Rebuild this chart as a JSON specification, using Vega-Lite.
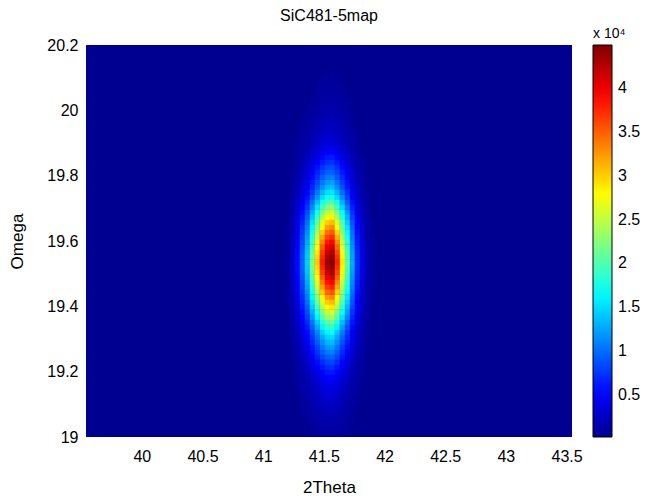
{
  "$schema": "https://vega.github.io/schema/vega-lite/v6.json",
  "width": 486,
  "height": 392,
  "autosize": {"type": "none"},
  "padding": {"left": 86, "top": 45, "right": 79, "bottom": 61},
  "background": "white",
  "config": {"font": "Liberation Sans", "view": {"fill": "#000090", "stroke": null}},
  "title": {"text": "SiC481-5map", "fontSize": 16, "fontWeight": "normal", "color": "black", "offset": 3, "anchor": "middle"},
  "data": {"values": [
    {"t":41.529,"w":20.116,"v":590},{"t":41.57,"w":20.116,"v":602},
    {"t":41.488,"w":20.101,"v":599},{"t":41.529,"w":20.101,"v":655},{"t":41.57,"w":20.101,"v":669},{"t":41.611,"w":20.101,"v":594},
    {"t":41.446,"w":20.085,"v":559},{"t":41.488,"w":20.085,"v":656},{"t":41.529,"w":20.085,"v":720},{"t":41.57,"w":20.085,"v":736},{"t":41.611,"w":20.085,"v":651},
    {"t":41.446,"w":20.07,"v":619},{"t":41.488,"w":20.07,"v":732},{"t":41.529,"w":20.07,"v":807},{"t":41.57,"w":20.07,"v":826},{"t":41.611,"w":20.07,"v":726},{"t":41.653,"w":20.07,"v":601},
    {"t":41.446,"w":20.055,"v":679},{"t":41.488,"w":20.055,"v":808},{"t":41.529,"w":20.055,"v":894},{"t":41.57,"w":20.055,"v":915},{"t":41.611,"w":20.055,"v":801},{"t":41.653,"w":20.055,"v":658},
    {"t":41.405,"w":20.039,"v":616},{"t":41.446,"w":20.039,"v":769},{"t":41.488,"w":20.039,"v":922},{"t":41.529,"w":20.039,"v":1024},{"t":41.57,"w":20.039,"v":1049},{"t":41.611,"w":20.039,"v":913},{"t":41.653,"w":20.039,"v":744},{"t":41.694,"w":20.039,"v":591},
    {"t":41.405,"w":20.024,"v":704},{"t":41.446,"w":20.024,"v":889},{"t":41.488,"w":20.024,"v":1074},{"t":41.529,"w":20.024,"v":1197},{"t":41.57,"w":20.024,"v":1228},{"t":41.611,"w":20.024,"v":1064},{"t":41.653,"w":20.024,"v":858},{"t":41.694,"w":20.024,"v":673},
    {"t":41.364,"w":20.009,"v":586},{"t":41.405,"w":20.009,"v":791},{"t":41.446,"w":20.009,"v":1009},{"t":41.488,"w":20.009,"v":1226},{"t":41.529,"w":20.009,"v":1371},{"t":41.57,"w":20.009,"v":1407},{"t":41.611,"w":20.009,"v":1214},{"t":41.653,"w":20.009,"v":972},{"t":41.694,"w":20.009,"v":755},
    {"t":41.364,"w":19.994,"v":643},{"t":41.405,"w":19.994,"v":879},{"t":41.446,"w":19.994,"v":1128},{"t":41.488,"w":19.994,"v":1378},{"t":41.529,"w":19.994,"v":1544},{"t":41.57,"w":19.994,"v":1586},{"t":41.611,"w":19.994,"v":1364},{"t":41.653,"w":19.994,"v":1087},{"t":41.694,"w":19.994,"v":837},{"t":41.735,"w":19.994,"v":588},
    {"t":41.364,"w":19.978,"v":715},{"t":41.405,"w":19.978,"v":989},{"t":41.446,"w":19.978,"v":1278},{"t":41.488,"w":19.978,"v":1568},{"t":41.529,"w":19.978,"v":1761},{"t":41.57,"w":19.978,"v":1809},{"t":41.611,"w":19.978,"v":1552},{"t":41.653,"w":19.978,"v":1230},{"t":41.694,"w":19.978,"v":940},{"t":41.735,"w":19.978,"v":651},
    {"t":41.323,"w":19.963,"v":594},{"t":41.364,"w":19.963,"v":801},{"t":41.405,"w":19.963,"v":1120},{"t":41.446,"w":19.963,"v":1458},{"t":41.488,"w":19.963,"v":1796},{"t":41.529,"w":19.963,"v":2021},{"t":41.57,"w":19.963,"v":2077},{"t":41.611,"w":19.963,"v":1777},{"t":41.653,"w":19.963,"v":1402},{"t":41.694,"w":19.963,"v":1064},{"t":41.735,"w":19.963,"v":726},
    {"t":41.323,"w":19.948,"v":651},{"t":41.364,"w":19.948,"v":887},{"t":41.405,"w":19.948,"v":1251},{"t":41.446,"w":19.948,"v":1638},{"t":41.488,"w":19.948,"v":2024},{"t":41.529,"w":19.948,"v":2281},{"t":41.57,"w":19.948,"v":2346},{"t":41.611,"w":19.948,"v":2002},{"t":41.653,"w":19.948,"v":1573},{"t":41.694,"w":19.948,"v":1187},{"t":41.735,"w":19.948,"v":801},
    {"t":41.323,"w":19.932,"v":726},{"t":41.364,"w":19.932,"v":1001},{"t":41.405,"w":19.932,"v":1427},{"t":41.446,"w":19.932,"v":1877},{"t":41.488,"w":19.932,"v":2328},{"t":41.529,"w":19.932,"v":2628},{"t":41.57,"w":19.932,"v":2703},{"t":41.611,"w":19.932,"v":2303},{"t":41.653,"w":19.932,"v":1802},{"t":41.694,"w":19.932,"v":1351},{"t":41.735,"w":19.932,"v":901},{"t":41.776,"w":19.932,"v":601},
    {"t":41.323,"w":19.917,"v":810},{"t":41.364,"w":19.917,"v":1130},{"t":41.405,"w":19.917,"v":1624},{"t":41.446,"w":19.917,"v":2147},{"t":41.488,"w":19.917,"v":2670},{"t":41.529,"w":19.917,"v":3018},{"t":41.57,"w":19.917,"v":3106},{"t":41.611,"w":19.917,"v":2641},{"t":41.653,"w":19.917,"v":2060},{"t":41.694,"w":19.917,"v":1537},{"t":41.735,"w":19.917,"v":1014},{"t":41.776,"w":19.917,"v":665},
    {"t":41.281,"w":19.902,"v":602},{"t":41.323,"w":19.902,"v":904},{"t":41.364,"w":19.902,"v":1273},{"t":41.405,"w":19.902,"v":1843},{"t":41.446,"w":19.902,"v":2446},{"t":41.488,"w":19.902,"v":3050},{"t":41.529,"w":19.902,"v":3452},{"t":41.57,"w":19.902,"v":3553},{"t":41.611,"w":19.902,"v":3016},{"t":41.653,"w":19.902,"v":2346},{"t":41.694,"w":19.902,"v":1742},{"t":41.735,"w":19.902,"v":1139},{"t":41.776,"w":19.902,"v":736},
    {"t":41.281,"w":19.886,"v":683},{"t":41.323,"w":19.886,"v":1045},{"t":41.364,"w":19.886,"v":1487},{"t":41.405,"w":19.886,"v":2171},{"t":41.446,"w":19.886,"v":2895},{"t":41.488,"w":19.886,"v":3620},{"t":41.529,"w":19.886,"v":4102},{"t":41.57,"w":19.886,"v":4223},{"t":41.611,"w":19.886,"v":3579},{"t":41.653,"w":19.886,"v":2775},{"t":41.694,"w":19.886,"v":2051},{"t":41.735,"w":19.886,"v":1326},{"t":41.776,"w":19.886,"v":844},
    {"t":41.281,"w":19.871,"v":790},{"t":41.323,"w":19.871,"v":1233},{"t":41.364,"w":19.871,"v":1773},{"t":41.405,"w":19.871,"v":2609},{"t":41.446,"w":19.871,"v":3494},{"t":41.488,"w":19.871,"v":4379},{"t":41.529,"w":19.871,"v":4969},{"t":41.57,"w":19.871,"v":5117},{"t":41.611,"w":19.871,"v":4330},{"t":41.653,"w":19.871,"v":3347},{"t":41.694,"w":19.871,"v":2462},{"t":41.735,"w":19.871,"v":1577},{"t":41.776,"w":19.871,"v":987},{"t":41.818,"w":19.871,"v":593},
    {"t":41.281,"w":19.856,"v":930},{"t":41.323,"w":19.856,"v":1477},{"t":41.364,"w":19.856,"v":2145},{"t":41.405,"w":19.856,"v":3179},{"t":41.446,"w":19.856,"v":4273},{"t":41.488,"w":19.856,"v":5367},{"t":41.529,"w":19.856,"v":6097},{"t":41.57,"w":19.856,"v":6279},{"t":41.611,"w":19.856,"v":5307},{"t":41.653,"w":19.856,"v":4091},{"t":41.694,"w":19.856,"v":2996},{"t":41.735,"w":19.856,"v":1902},{"t":41.776,"w":19.856,"v":1173},{"t":41.818,"w":19.856,"v":686},
    {"t":41.281,"w":19.84,"v":1058},{"t":41.323,"w":19.84,"v":1702},{"t":41.364,"w":19.84,"v":2489},{"t":41.405,"w":19.84,"v":3704},{"t":41.446,"w":19.84,"v":4992},{"t":41.488,"w":19.84,"v":6279},{"t":41.529,"w":19.84,"v":7137},{"t":41.57,"w":19.84,"v":7352},{"t":41.611,"w":19.84,"v":6208},{"t":41.653,"w":19.84,"v":4777},{"t":41.694,"w":19.84,"v":3490},{"t":41.735,"w":19.84,"v":2203},{"t":41.776,"w":19.84,"v":1344},{"t":41.818,"w":19.84,"v":772},
    {"t":41.24,"w":19.825,"v":576},{"t":41.281,"w":19.825,"v":1203},{"t":41.323,"w":19.825,"v":1955},{"t":41.364,"w":19.825,"v":2875},{"t":41.405,"w":19.825,"v":4296},{"t":41.446,"w":19.825,"v":5800},{"t":41.488,"w":19.825,"v":7305},{"t":41.529,"w":19.825,"v":8308},{"t":41.57,"w":19.825,"v":8559},{"t":41.611,"w":19.825,"v":7221},{"t":41.653,"w":19.825,"v":5550},{"t":41.694,"w":19.825,"v":4045},{"t":41.735,"w":19.825,"v":2541},{"t":41.776,"w":19.825,"v":1537},{"t":41.818,"w":19.825,"v":869},
    {"t":41.24,"w":19.81,"v":623},{"t":41.281,"w":19.81,"v":1326},{"t":41.323,"w":19.81,"v":2171},{"t":41.364,"w":19.81,"v":3204},{"t":41.405,"w":19.81,"v":4800},{"t":41.446,"w":19.81,"v":6489},{"t":41.488,"w":19.81,"v":8179},{"t":41.529,"w":19.81,"v":9305},{"t":41.57,"w":19.81,"v":9587},{"t":41.611,"w":19.81,"v":8085},{"t":41.653,"w":19.81,"v":6208},{"t":41.694,"w":19.81,"v":4518},{"t":41.735,"w":19.81,"v":2828},{"t":41.776,"w":19.81,"v":1702},{"t":41.818,"w":19.81,"v":951},
    {"t":41.24,"w":19.795,"v":683},{"t":41.281,"w":19.795,"v":1487},{"t":41.323,"w":19.795,"v":2453},{"t":41.364,"w":19.795,"v":3633},{"t":41.405,"w":19.795,"v":5457},{"t":41.446,"w":19.795,"v":7388},{"t":41.488,"w":19.795,"v":9319},{"t":41.529,"w":19.795,"v":10606},{"t":41.57,"w":19.795,"v":10928},{"t":41.611,"w":19.795,"v":9212},{"t":41.653,"w":19.795,"v":7066},{"t":41.694,"w":19.795,"v":5135},{"t":41.735,"w":19.795,"v":3204},{"t":41.776,"w":19.795,"v":1916},{"t":41.818,"w":19.795,"v":1058},{"t":41.859,"w":19.795,"v":576},
    {"t":41.24,"w":19.779,"v":743},{"t":41.281,"w":19.779,"v":1648},{"t":41.323,"w":19.779,"v":2734},{"t":41.364,"w":19.779,"v":4062},{"t":41.405,"w":19.779,"v":6114},{"t":41.446,"w":19.779,"v":8286},{"t":41.488,"w":19.779,"v":10459},{"t":41.529,"w":19.779,"v":11907},{"t":41.57,"w":19.779,"v":12269},{"t":41.611,"w":19.779,"v":10338},{"t":41.653,"w":19.779,"v":7924},{"t":41.694,"w":19.779,"v":5752},{"t":41.735,"w":19.779,"v":3579},{"t":41.776,"w":19.779,"v":2131},{"t":41.818,"w":19.779,"v":1166},{"t":41.859,"w":19.779,"v":623},
    {"t":41.24,"w":19.764,"v":804},{"t":41.281,"w":19.764,"v":1809},{"t":41.323,"w":19.764,"v":3016},{"t":41.364,"w":19.764,"v":4491},{"t":41.405,"w":19.764,"v":6771},{"t":41.446,"w":19.764,"v":9185},{"t":41.488,"w":19.764,"v":11599},{"t":41.529,"w":19.764,"v":13208},{"t":41.57,"w":19.764,"v":13610},{"t":41.611,"w":19.764,"v":11464},{"t":41.653,"w":19.764,"v":8782},{"t":41.694,"w":19.764,"v":6369},{"t":41.735,"w":19.764,"v":3955},{"t":41.776,"w":19.764,"v":2346},{"t":41.818,"w":19.764,"v":1273},{"t":41.859,"w":19.764,"v":670},
    {"t":41.24,"w":19.749,"v":894},{"t":41.281,"w":19.749,"v":2051},{"t":41.323,"w":19.749,"v":3439},{"t":41.364,"w":19.749,"v":5135},{"t":41.405,"w":19.749,"v":7757},{"t":41.446,"w":19.749,"v":10532},{"t":41.488,"w":19.749,"v":13308},{"t":41.529,"w":19.749,"v":15159},{"t":41.57,"w":19.749,"v":15622},{"t":41.611,"w":19.749,"v":13154},{"t":41.653,"w":19.749,"v":10070},{"t":41.694,"w":19.749,"v":7294},{"t":41.735,"w":19.749,"v":4518},{"t":41.776,"w":19.749,"v":2667},{"t":41.818,"w":19.749,"v":1434},{"t":41.859,"w":19.749,"v":740},
    {"t":41.24,"w":19.733,"v":985},{"t":41.281,"w":19.733,"v":2292},{"t":41.323,"w":19.733,"v":3861},{"t":41.364,"w":19.733,"v":5779},{"t":41.405,"w":19.733,"v":8742},{"t":41.446,"w":19.733,"v":11880},{"t":41.488,"w":19.733,"v":15018},{"t":41.529,"w":19.733,"v":17110},{"t":41.57,"w":19.733,"v":17633},{"t":41.611,"w":19.733,"v":14844},{"t":41.653,"w":19.733,"v":11357},{"t":41.694,"w":19.733,"v":8219},{"t":41.735,"w":19.733,"v":5081},{"t":41.776,"w":19.733,"v":2989},{"t":41.818,"w":19.733,"v":1595},{"t":41.859,"w":19.733,"v":810},
    {"t":41.24,"w":19.718,"v":1105},{"t":41.281,"w":19.718,"v":2614},{"t":41.323,"w":19.718,"v":4424},{"t":41.364,"w":19.718,"v":6637},{"t":41.405,"w":19.718,"v":10056},{"t":41.446,"w":19.718,"v":13677},{"t":41.488,"w":19.718,"v":17298},{"t":41.529,"w":19.718,"v":19712},{"t":41.57,"w":19.718,"v":20315},{"t":41.611,"w":19.718,"v":17097},{"t":41.653,"w":19.718,"v":13074},{"t":41.694,"w":19.718,"v":9453},{"t":41.735,"w":19.718,"v":5832},{"t":41.776,"w":19.718,"v":3418},{"t":41.818,"w":19.718,"v":1809},{"t":41.859,"w":19.718,"v":904},
    {"t":41.24,"w":19.703,"v":1226},{"t":41.281,"w":19.703,"v":2936},{"t":41.323,"w":19.703,"v":4987},{"t":41.364,"w":19.703,"v":7495},{"t":41.405,"w":19.703,"v":11371},{"t":41.446,"w":19.703,"v":15474},{"t":41.488,"w":19.703,"v":19577},{"t":41.529,"w":19.703,"v":22313},{"t":41.57,"w":19.703,"v":22997},{"t":41.611,"w":19.703,"v":19349},{"t":41.653,"w":19.703,"v":14790},{"t":41.694,"w":19.703,"v":10687},{"t":41.735,"w":19.703,"v":6583},{"t":41.776,"w":19.703,"v":3848},{"t":41.818,"w":19.703,"v":2024},{"t":41.859,"w":19.703,"v":998},
    {"t":41.24,"w":19.687,"v":1347},{"t":41.281,"w":19.687,"v":3257},{"t":41.323,"w":19.687,"v":5551},{"t":41.364,"w":19.687,"v":8353},{"t":41.405,"w":19.687,"v":12685},{"t":41.446,"w":19.687,"v":17271},{"t":41.488,"w":19.687,"v":21857},{"t":41.529,"w":19.687,"v":24915},{"t":41.57,"w":19.687,"v":25679},{"t":41.611,"w":19.687,"v":21602},{"t":41.653,"w":19.687,"v":16507},{"t":41.694,"w":19.687,"v":11920},{"t":41.735,"w":19.687,"v":7334},{"t":41.776,"w":19.687,"v":4277},{"t":41.818,"w":19.687,"v":2238},{"t":41.859,"w":19.687,"v":1092},
    {"t":41.24,"w":19.672,"v":1468},{"t":41.281,"w":19.672,"v":3579},{"t":41.323,"w":19.672,"v":6114},{"t":41.364,"w":19.672,"v":9212},{"t":41.405,"w":19.672,"v":14000},{"t":41.446,"w":19.672,"v":19068},{"t":41.488,"w":19.672,"v":24137},{"t":41.529,"w":19.672,"v":27516},{"t":41.57,"w":19.672,"v":28361},{"t":41.611,"w":19.672,"v":23855},{"t":41.653,"w":19.672,"v":18223},{"t":41.694,"w":19.672,"v":13154},{"t":41.735,"w":19.672,"v":8085},{"t":41.776,"w":19.672,"v":4706},{"t":41.818,"w":19.672,"v":2453},{"t":41.859,"w":19.672,"v":1186},
    {"t":41.199,"w":19.657,"v":567},{"t":41.24,"w":19.657,"v":1578},{"t":41.281,"w":19.657,"v":3874},{"t":41.323,"w":19.657,"v":6630},{"t":41.364,"w":19.657,"v":9998},{"t":41.405,"w":19.657,"v":15204},{"t":41.446,"w":19.657,"v":20715},{"t":41.488,"w":19.657,"v":26227},{"t":41.529,"w":19.657,"v":29901},{"t":41.57,"w":19.657,"v":30820},{"t":41.611,"w":19.657,"v":25920},{"t":41.653,"w":19.657,"v":19796},{"t":41.694,"w":19.657,"v":14285},{"t":41.735,"w":19.657,"v":8773},{"t":41.776,"w":19.657,"v":5099},{"t":41.818,"w":19.657,"v":2650},{"t":41.859,"w":19.657,"v":1272},{"t":41.9,"w":19.657,"v":567},
    {"t":41.199,"w":19.641,"v":594},{"t":41.24,"w":19.641,"v":1679},{"t":41.281,"w":19.641,"v":4143},{"t":41.323,"w":19.641,"v":7099},{"t":41.364,"w":19.641,"v":10713},{"t":41.405,"w":19.641,"v":16299},{"t":41.446,"w":19.641,"v":22213},{"t":41.488,"w":19.641,"v":28126},{"t":41.529,"w":19.641,"v":32069},{"t":41.57,"w":19.641,"v":33055},{"t":41.611,"w":19.641,"v":27798},{"t":41.653,"w":19.641,"v":21227},{"t":41.694,"w":19.641,"v":15313},{"t":41.735,"w":19.641,"v":9399},{"t":41.776,"w":19.641,"v":5457},{"t":41.818,"w":19.641,"v":2828},{"t":41.859,"w":19.641,"v":1350},{"t":41.9,"w":19.641,"v":594},
    {"t":41.199,"w":19.626,"v":621},{"t":41.24,"w":19.626,"v":1779},{"t":41.281,"w":19.626,"v":4411},{"t":41.323,"w":19.626,"v":7569},{"t":41.364,"w":19.626,"v":11429},{"t":41.405,"w":19.626,"v":17394},{"t":41.446,"w":19.626,"v":23710},{"t":41.488,"w":19.626,"v":30026},{"t":41.529,"w":19.626,"v":34237},{"t":41.57,"w":19.626,"v":35290},{"t":41.611,"w":19.626,"v":29675},{"t":41.653,"w":19.626,"v":22657},{"t":41.694,"w":19.626,"v":16341},{"t":41.735,"w":19.626,"v":10025},{"t":41.776,"w":19.626,"v":5814},{"t":41.818,"w":19.626,"v":3007},{"t":41.859,"w":19.626,"v":1429},{"t":41.9,"w":19.626,"v":621},
    {"t":41.199,"w":19.611,"v":645},{"t":41.24,"w":19.611,"v":1870},{"t":41.281,"w":19.611,"v":4652},{"t":41.323,"w":19.611,"v":7991},{"t":41.364,"w":19.611,"v":12072},{"t":41.405,"w":19.611,"v":18379},{"t":41.446,"w":19.611,"v":25058},{"t":41.488,"w":19.611,"v":31736},{"t":41.529,"w":19.611,"v":36188},{"t":41.57,"w":19.611,"v":37301},{"t":41.611,"w":19.611,"v":31365},{"t":41.653,"w":19.611,"v":23945},{"t":41.694,"w":19.611,"v":17266},{"t":41.735,"w":19.611,"v":10588},{"t":41.776,"w":19.611,"v":6136},{"t":41.818,"w":19.611,"v":3168},{"t":41.859,"w":19.611,"v":1499},{"t":41.9,"w":19.611,"v":645},
    {"t":41.199,"w":19.596,"v":669},{"t":41.24,"w":19.596,"v":1961},{"t":41.281,"w":19.596,"v":4894},{"t":41.323,"w":19.596,"v":8414},{"t":41.364,"w":19.596,"v":12716},{"t":41.405,"w":19.596,"v":19365},{"t":41.446,"w":19.596,"v":26405},{"t":41.488,"w":19.596,"v":33446},{"t":41.529,"w":19.596,"v":38139},{"t":41.57,"w":19.596,"v":39313},{"t":41.611,"w":19.596,"v":33055},{"t":41.653,"w":19.596,"v":25232},{"t":41.694,"w":19.596,"v":18192},{"t":41.735,"w":19.596,"v":11152},{"t":41.776,"w":19.596,"v":6458},{"t":41.818,"w":19.596,"v":3329},{"t":41.859,"w":19.596,"v":1569},{"t":41.9,"w":19.596,"v":669},
    {"t":41.199,"w":19.58,"v":693},{"t":41.24,"w":19.58,"v":2051},{"t":41.281,"w":19.58,"v":5135},{"t":41.323,"w":19.58,"v":8836},{"t":41.364,"w":19.58,"v":13360},{"t":41.405,"w":19.58,"v":20351},{"t":41.446,"w":19.58,"v":27753},{"t":41.488,"w":19.58,"v":35155},{"t":41.529,"w":19.58,"v":40090},{"t":41.57,"w":19.58,"v":41324},{"t":41.611,"w":19.58,"v":34744},{"t":41.653,"w":19.58,"v":26519},{"t":41.694,"w":19.58,"v":19117},{"t":41.735,"w":19.58,"v":11715},{"t":41.776,"w":19.58,"v":6780},{"t":41.818,"w":19.58,"v":3490},{"t":41.859,"w":19.58,"v":1640},{"t":41.9,"w":19.58,"v":693},
    {"t":41.199,"w":19.565,"v":712},{"t":41.24,"w":19.565,"v":2121},{"t":41.281,"w":19.565,"v":5323},{"t":41.323,"w":19.565,"v":9165},{"t":41.364,"w":19.565,"v":13860},{"t":41.405,"w":19.565,"v":21117},{"t":41.446,"w":19.565,"v":28801},{"t":41.488,"w":19.565,"v":36485},{"t":41.529,"w":19.565,"v":41608},{"t":41.57,"w":19.565,"v":42889},{"t":41.611,"w":19.565,"v":36058},{"t":41.653,"w":19.565,"v":27521},{"t":41.694,"w":19.565,"v":19837},{"t":41.735,"w":19.565,"v":12153},{"t":41.776,"w":19.565,"v":7030},{"t":41.818,"w":19.565,"v":3615},{"t":41.859,"w":19.565,"v":1695},{"t":41.9,"w":19.565,"v":712},
    {"t":41.199,"w":19.55,"v":725},{"t":41.24,"w":19.55,"v":2172},{"t":41.281,"w":19.55,"v":5457},{"t":41.323,"w":19.55,"v":9399},{"t":41.364,"w":19.55,"v":14218},{"t":41.405,"w":19.55,"v":21665},{"t":41.446,"w":19.55,"v":29550},{"t":41.488,"w":19.55,"v":37435},{"t":41.529,"w":19.55,"v":42692},{"t":41.57,"w":19.55,"v":44006},{"t":41.611,"w":19.55,"v":36997},{"t":41.653,"w":19.55,"v":28236},{"t":41.694,"w":19.55,"v":20351},{"t":41.735,"w":19.55,"v":12466},{"t":41.776,"w":19.55,"v":7209},{"t":41.818,"w":19.55,"v":3704},{"t":41.859,"w":19.55,"v":1734},{"t":41.9,"w":19.55,"v":725},
    {"t":41.199,"w":19.534,"v":736},{"t":41.24,"w":19.534,"v":2212},{"t":41.281,"w":19.534,"v":5564},{"t":41.323,"w":19.534,"v":9587},{"t":41.364,"w":19.534,"v":14504},{"t":41.405,"w":19.534,"v":22103},{"t":41.446,"w":19.534,"v":30149},{"t":41.488,"w":19.534,"v":38195},{"t":41.529,"w":19.534,"v":43559},{"t":41.57,"w":19.534,"v":44900},{"t":41.611,"w":19.534,"v":37748},{"t":41.653,"w":19.534,"v":28808},{"t":41.694,"w":19.534,"v":20762},{"t":41.735,"w":19.534,"v":12716},{"t":41.776,"w":19.534,"v":7352},{"t":41.818,"w":19.534,"v":3776},{"t":41.859,"w":19.534,"v":1765},{"t":41.9,"w":19.534,"v":736},
    {"t":41.199,"w":19.519,"v":725},{"t":41.24,"w":19.519,"v":2172},{"t":41.281,"w":19.519,"v":5457},{"t":41.323,"w":19.519,"v":9399},{"t":41.364,"w":19.519,"v":14218},{"t":41.405,"w":19.519,"v":21665},{"t":41.446,"w":19.519,"v":29550},{"t":41.488,"w":19.519,"v":37435},{"t":41.529,"w":19.519,"v":42692},{"t":41.57,"w":19.519,"v":44006},{"t":41.611,"w":19.519,"v":36997},{"t":41.653,"w":19.519,"v":28236},{"t":41.694,"w":19.519,"v":20351},{"t":41.735,"w":19.519,"v":12466},{"t":41.776,"w":19.519,"v":7209},{"t":41.818,"w":19.519,"v":3704},{"t":41.859,"w":19.519,"v":1734},{"t":41.9,"w":19.519,"v":725},
    {"t":41.199,"w":19.504,"v":712},{"t":41.24,"w":19.504,"v":2121},{"t":41.281,"w":19.504,"v":5323},{"t":41.323,"w":19.504,"v":9165},{"t":41.364,"w":19.504,"v":13860},{"t":41.405,"w":19.504,"v":21117},{"t":41.446,"w":19.504,"v":28801},{"t":41.488,"w":19.504,"v":36485},{"t":41.529,"w":19.504,"v":41608},{"t":41.57,"w":19.504,"v":42889},{"t":41.611,"w":19.504,"v":36058},{"t":41.653,"w":19.504,"v":27521},{"t":41.694,"w":19.504,"v":19837},{"t":41.735,"w":19.504,"v":12153},{"t":41.776,"w":19.504,"v":7030},{"t":41.818,"w":19.504,"v":3615},{"t":41.859,"w":19.504,"v":1695},{"t":41.9,"w":19.504,"v":712},
    {"t":41.199,"w":19.488,"v":693},{"t":41.24,"w":19.488,"v":2051},{"t":41.281,"w":19.488,"v":5135},{"t":41.323,"w":19.488,"v":8836},{"t":41.364,"w":19.488,"v":13360},{"t":41.405,"w":19.488,"v":20351},{"t":41.446,"w":19.488,"v":27753},{"t":41.488,"w":19.488,"v":35155},{"t":41.529,"w":19.488,"v":40090},{"t":41.57,"w":19.488,"v":41324},{"t":41.611,"w":19.488,"v":34744},{"t":41.653,"w":19.488,"v":26519},{"t":41.694,"w":19.488,"v":19117},{"t":41.735,"w":19.488,"v":11715},{"t":41.776,"w":19.488,"v":6780},{"t":41.818,"w":19.488,"v":3490},{"t":41.859,"w":19.488,"v":1640},{"t":41.9,"w":19.488,"v":693},
    {"t":41.199,"w":19.473,"v":672},{"t":41.24,"w":19.473,"v":1971},{"t":41.281,"w":19.473,"v":4920},{"t":41.323,"w":19.473,"v":8461},{"t":41.364,"w":19.473,"v":12788},{"t":41.405,"w":19.473,"v":19475},{"t":41.446,"w":19.473,"v":26555},{"t":41.488,"w":19.473,"v":33636},{"t":41.529,"w":19.473,"v":38356},{"t":41.57,"w":19.473,"v":39536},{"t":41.611,"w":19.473,"v":33242},{"t":41.653,"w":19.473,"v":25375},{"t":41.694,"w":19.473,"v":18295},{"t":41.735,"w":19.473,"v":11214},{"t":41.776,"w":19.473,"v":6494},{"t":41.818,"w":19.473,"v":3347},{"t":41.859,"w":19.473,"v":1577},{"t":41.9,"w":19.473,"v":672},
    {"t":41.199,"w":19.458,"v":650},{"t":41.24,"w":19.458,"v":1890},{"t":41.281,"w":19.458,"v":4706},{"t":41.323,"w":19.458,"v":8085},{"t":41.364,"w":19.458,"v":12215},{"t":41.405,"w":19.458,"v":18599},{"t":41.446,"w":19.458,"v":25357},{"t":41.488,"w":19.458,"v":32116},{"t":41.529,"w":19.458,"v":36622},{"t":41.57,"w":19.458,"v":37748},{"t":41.611,"w":19.458,"v":31740},{"t":41.653,"w":19.458,"v":24231},{"t":41.694,"w":19.458,"v":17472},{"t":41.735,"w":19.458,"v":10713},{"t":41.776,"w":19.458,"v":6208},{"t":41.818,"w":19.458,"v":3204},{"t":41.859,"w":19.458,"v":1515},{"t":41.9,"w":19.458,"v":650},
    {"t":41.199,"w":19.443,"v":623},{"t":41.24,"w":19.443,"v":1789},{"t":41.281,"w":19.443,"v":4438},{"t":41.323,"w":19.443,"v":7616},{"t":41.364,"w":19.443,"v":11500},{"t":41.405,"w":19.443,"v":17503},{"t":41.446,"w":19.443,"v":23860},{"t":41.488,"w":19.443,"v":30216},{"t":41.529,"w":19.443,"v":34454},{"t":41.57,"w":19.443,"v":35513},{"t":41.611,"w":19.443,"v":29863},{"t":41.653,"w":19.443,"v":22800},{"t":41.694,"w":19.443,"v":16444},{"t":41.735,"w":19.443,"v":10088},{"t":41.776,"w":19.443,"v":5850},{"t":41.818,"w":19.443,"v":3025},{"t":41.859,"w":19.443,"v":1436},{"t":41.9,"w":19.443,"v":623},
    {"t":41.199,"w":19.427,"v":597},{"t":41.24,"w":19.427,"v":1689},{"t":41.281,"w":19.427,"v":4169},{"t":41.323,"w":19.427,"v":7146},{"t":41.364,"w":19.427,"v":10785},{"t":41.405,"w":19.427,"v":16408},{"t":41.446,"w":19.427,"v":22362},{"t":41.488,"w":19.427,"v":28316},{"t":41.529,"w":19.427,"v":32286},{"t":41.57,"w":19.427,"v":33278},{"t":41.611,"w":19.427,"v":27986},{"t":41.653,"w":19.427,"v":21370},{"t":41.694,"w":19.427,"v":15416},{"t":41.735,"w":19.427,"v":9462},{"t":41.776,"w":19.427,"v":5492},{"t":41.818,"w":19.427,"v":2846},{"t":41.859,"w":19.427,"v":1358},{"t":41.9,"w":19.427,"v":597},
    {"t":41.199,"w":19.412,"v":570},{"t":41.24,"w":19.412,"v":1588},{"t":41.281,"w":19.412,"v":3901},{"t":41.323,"w":19.412,"v":6677},{"t":41.364,"w":19.412,"v":10070},{"t":41.405,"w":19.412,"v":15313},{"t":41.446,"w":19.412,"v":20865},{"t":41.488,"w":19.412,"v":26417},{"t":41.529,"w":19.412,"v":30118},{"t":41.57,"w":19.412,"v":31043},{"t":41.611,"w":19.412,"v":26108},{"t":41.653,"w":19.412,"v":19940},{"t":41.694,"w":19.412,"v":14388},{"t":41.735,"w":19.412,"v":8836},{"t":41.776,"w":19.412,"v":5135},{"t":41.818,"w":19.412,"v":2667},{"t":41.859,"w":19.412,"v":1280},{"t":41.9,"w":19.412,"v":570},
    {"t":41.24,"w":19.397,"v":1488},{"t":41.281,"w":19.397,"v":3633},{"t":41.323,"w":19.397,"v":6208},{"t":41.364,"w":19.397,"v":9355},{"t":41.405,"w":19.397,"v":14218},{"t":41.446,"w":19.397,"v":19367},{"t":41.488,"w":19.397,"v":24517},{"t":41.529,"w":19.397,"v":27950},{"t":41.57,"w":19.397,"v":28808},{"t":41.611,"w":19.397,"v":24231},{"t":41.653,"w":19.397,"v":18509},{"t":41.694,"w":19.397,"v":13360},{"t":41.735,"w":19.397,"v":8210},{"t":41.776,"w":19.397,"v":4777},{"t":41.818,"w":19.397,"v":2489},{"t":41.859,"w":19.397,"v":1202},
    {"t":41.24,"w":19.381,"v":1367},{"t":41.281,"w":19.381,"v":3311},{"t":41.323,"w":19.381,"v":5644},{"t":41.364,"w":19.381,"v":8496},{"t":41.405,"w":19.381,"v":12904},{"t":41.446,"w":19.381,"v":17570},{"t":41.488,"w":19.381,"v":22237},{"t":41.529,"w":19.381,"v":25348},{"t":41.57,"w":19.381,"v":26126},{"t":41.611,"w":19.381,"v":21978},{"t":41.653,"w":19.381,"v":16793},{"t":41.694,"w":19.381,"v":12126},{"t":41.735,"w":19.381,"v":7459},{"t":41.776,"w":19.381,"v":4348},{"t":41.818,"w":19.381,"v":2274},{"t":41.859,"w":19.381,"v":1108},
    {"t":41.24,"w":19.366,"v":1266},{"t":41.281,"w":19.366,"v":3043},{"t":41.323,"w":19.366,"v":5175},{"t":41.364,"w":19.366,"v":7781},{"t":41.405,"w":19.366,"v":11809},{"t":41.446,"w":19.366,"v":16073},{"t":41.488,"w":19.366,"v":20337},{"t":41.529,"w":19.366,"v":23180},{"t":41.57,"w":19.366,"v":23891},{"t":41.611,"w":19.366,"v":20100},{"t":41.653,"w":19.366,"v":15362},{"t":41.694,"w":19.366,"v":11098},{"t":41.735,"w":19.366,"v":6833},{"t":41.776,"w":19.366,"v":3991},{"t":41.818,"w":19.366,"v":2095},{"t":41.859,"w":19.366,"v":1029},
    {"t":41.24,"w":19.351,"v":1146},{"t":41.281,"w":19.351,"v":2721},{"t":41.323,"w":19.351,"v":4612},{"t":41.364,"w":19.351,"v":6923},{"t":41.405,"w":19.351,"v":10494},{"t":41.446,"w":19.351,"v":14276},{"t":41.488,"w":19.351,"v":18058},{"t":41.529,"w":19.351,"v":20579},{"t":41.57,"w":19.351,"v":21209},{"t":41.611,"w":19.351,"v":17848},{"t":41.653,"w":19.351,"v":13646},{"t":41.694,"w":19.351,"v":9864},{"t":41.735,"w":19.351,"v":6083},{"t":41.776,"w":19.351,"v":3561},{"t":41.818,"w":19.351,"v":1881},{"t":41.859,"w":19.351,"v":936},
    {"t":41.24,"w":19.335,"v":1045},{"t":41.281,"w":19.335,"v":2453},{"t":41.323,"w":19.335,"v":4143},{"t":41.364,"w":19.335,"v":6208},{"t":41.405,"w":19.335,"v":9399},{"t":41.446,"w":19.335,"v":12779},{"t":41.488,"w":19.335,"v":16158},{"t":41.529,"w":19.335,"v":18411},{"t":41.57,"w":19.335,"v":18974},{"t":41.611,"w":19.335,"v":15970},{"t":41.653,"w":19.335,"v":12215},{"t":41.694,"w":19.335,"v":8836},{"t":41.735,"w":19.335,"v":5457},{"t":41.776,"w":19.335,"v":3204},{"t":41.818,"w":19.335,"v":1702},{"t":41.859,"w":19.335,"v":857},
    {"t":41.24,"w":19.32,"v":944},{"t":41.281,"w":19.32,"v":2185},{"t":41.323,"w":19.32,"v":3673},{"t":41.364,"w":19.32,"v":5492},{"t":41.405,"w":19.32,"v":8304},{"t":41.446,"w":19.32,"v":11281},{"t":41.488,"w":19.32,"v":14258},{"t":41.529,"w":19.32,"v":16243},{"t":41.57,"w":19.32,"v":16739},{"t":41.611,"w":19.32,"v":14093},{"t":41.653,"w":19.32,"v":10785},{"t":41.694,"w":19.32,"v":7808},{"t":41.735,"w":19.32,"v":4831},{"t":41.776,"w":19.32,"v":2846},{"t":41.818,"w":19.32,"v":1523},{"t":41.859,"w":19.32,"v":779},
    {"t":41.24,"w":19.305,"v":864},{"t":41.281,"w":19.305,"v":1970},{"t":41.323,"w":19.305,"v":3298},{"t":41.364,"w":19.305,"v":4920},{"t":41.405,"w":19.305,"v":7428},{"t":41.446,"w":19.305,"v":10083},{"t":41.488,"w":19.305,"v":12738},{"t":41.529,"w":19.305,"v":14508},{"t":41.57,"w":19.305,"v":14951},{"t":41.611,"w":19.305,"v":12591},{"t":41.653,"w":19.305,"v":9641},{"t":41.694,"w":19.305,"v":6985},{"t":41.735,"w":19.305,"v":4330},{"t":41.776,"w":19.305,"v":2560},{"t":41.818,"w":19.305,"v":1380},{"t":41.859,"w":19.305,"v":716},
    {"t":41.24,"w":19.289,"v":804},{"t":41.281,"w":19.289,"v":1809},{"t":41.323,"w":19.289,"v":3016},{"t":41.364,"w":19.289,"v":4491},{"t":41.405,"w":19.289,"v":6771},{"t":41.446,"w":19.289,"v":9185},{"t":41.488,"w":19.289,"v":11599},{"t":41.529,"w":19.289,"v":13208},{"t":41.57,"w":19.289,"v":13610},{"t":41.611,"w":19.289,"v":11464},{"t":41.653,"w":19.289,"v":8782},{"t":41.694,"w":19.289,"v":6369},{"t":41.735,"w":19.289,"v":3955},{"t":41.776,"w":19.289,"v":2346},{"t":41.818,"w":19.289,"v":1273},{"t":41.859,"w":19.289,"v":670},
    {"t":41.24,"w":19.274,"v":743},{"t":41.281,"w":19.274,"v":1648},{"t":41.323,"w":19.274,"v":2734},{"t":41.364,"w":19.274,"v":4062},{"t":41.405,"w":19.274,"v":6114},{"t":41.446,"w":19.274,"v":8286},{"t":41.488,"w":19.274,"v":10459},{"t":41.529,"w":19.274,"v":11907},{"t":41.57,"w":19.274,"v":12269},{"t":41.611,"w":19.274,"v":10338},{"t":41.653,"w":19.274,"v":7924},{"t":41.694,"w":19.274,"v":5752},{"t":41.735,"w":19.274,"v":3579},{"t":41.776,"w":19.274,"v":2131},{"t":41.818,"w":19.274,"v":1166},{"t":41.859,"w":19.274,"v":623},
    {"t":41.24,"w":19.259,"v":683},{"t":41.281,"w":19.259,"v":1487},{"t":41.323,"w":19.259,"v":2453},{"t":41.364,"w":19.259,"v":3633},{"t":41.405,"w":19.259,"v":5457},{"t":41.446,"w":19.259,"v":7388},{"t":41.488,"w":19.259,"v":9319},{"t":41.529,"w":19.259,"v":10606},{"t":41.57,"w":19.259,"v":10928},{"t":41.611,"w":19.259,"v":9212},{"t":41.653,"w":19.259,"v":7066},{"t":41.694,"w":19.259,"v":5135},{"t":41.735,"w":19.259,"v":3204},{"t":41.776,"w":19.259,"v":1916},{"t":41.818,"w":19.259,"v":1058},{"t":41.859,"w":19.259,"v":576},
    {"t":41.24,"w":19.244,"v":623},{"t":41.281,"w":19.244,"v":1326},{"t":41.323,"w":19.244,"v":2171},{"t":41.364,"w":19.244,"v":3204},{"t":41.405,"w":19.244,"v":4800},{"t":41.446,"w":19.244,"v":6489},{"t":41.488,"w":19.244,"v":8179},{"t":41.529,"w":19.244,"v":9305},{"t":41.57,"w":19.244,"v":9587},{"t":41.611,"w":19.244,"v":8085},{"t":41.653,"w":19.244,"v":6208},{"t":41.694,"w":19.244,"v":4518},{"t":41.735,"w":19.244,"v":2828},{"t":41.776,"w":19.244,"v":1702},{"t":41.818,"w":19.244,"v":951},
    {"t":41.24,"w":19.228,"v":562},{"t":41.281,"w":19.228,"v":1166},{"t":41.323,"w":19.228,"v":1890},{"t":41.364,"w":19.228,"v":2775},{"t":41.405,"w":19.228,"v":4142},{"t":41.446,"w":19.228,"v":5591},{"t":41.488,"w":19.228,"v":7039},{"t":41.529,"w":19.228,"v":8005},{"t":41.57,"w":19.228,"v":8246},{"t":41.611,"w":19.228,"v":6959},{"t":41.653,"w":19.228,"v":5349},{"t":41.694,"w":19.228,"v":3901},{"t":41.735,"w":19.228,"v":2453},{"t":41.776,"w":19.228,"v":1487},{"t":41.818,"w":19.228,"v":844},
    {"t":41.281,"w":19.213,"v":1031},{"t":41.323,"w":19.213,"v":1655},{"t":41.364,"w":19.213,"v":2417},{"t":41.405,"w":19.213,"v":3595},{"t":41.446,"w":19.213,"v":4842},{"t":41.488,"w":19.213,"v":6089},{"t":41.529,"w":19.213,"v":6921},{"t":41.57,"w":19.213,"v":7129},{"t":41.611,"w":19.213,"v":6020},{"t":41.653,"w":19.213,"v":4634},{"t":41.694,"w":19.213,"v":3387},{"t":41.735,"w":19.213,"v":2140},{"t":41.776,"w":19.213,"v":1309},{"t":41.818,"w":19.213,"v":754},
    {"t":41.281,"w":19.198,"v":924},{"t":41.323,"w":19.198,"v":1467},{"t":41.364,"w":19.198,"v":2131},{"t":41.405,"w":19.198,"v":3157},{"t":41.446,"w":19.198,"v":4243},{"t":41.488,"w":19.198,"v":5329},{"t":41.529,"w":19.198,"v":6053},{"t":41.57,"w":19.198,"v":6235},{"t":41.611,"w":19.198,"v":5269},{"t":41.653,"w":19.198,"v":4062},{"t":41.694,"w":19.198,"v":2976},{"t":41.735,"w":19.198,"v":1890},{"t":41.776,"w":19.198,"v":1166},{"t":41.818,"w":19.198,"v":683},
    {"t":41.281,"w":19.182,"v":817},{"t":41.323,"w":19.182,"v":1280},{"t":41.364,"w":19.182,"v":1845},{"t":41.405,"w":19.182,"v":2719},{"t":41.446,"w":19.182,"v":3644},{"t":41.488,"w":19.182,"v":4569},{"t":41.529,"w":19.182,"v":5186},{"t":41.57,"w":19.182,"v":5341},{"t":41.611,"w":19.182,"v":4518},{"t":41.653,"w":19.182,"v":3490},{"t":41.694,"w":19.182,"v":2565},{"t":41.735,"w":19.182,"v":1639},{"t":41.776,"w":19.182,"v":1022},{"t":41.818,"w":19.182,"v":611},
    {"t":41.281,"w":19.167,"v":736},{"t":41.323,"w":19.167,"v":1139},{"t":41.364,"w":19.167,"v":1630},{"t":41.405,"w":19.167,"v":2390},{"t":41.446,"w":19.167,"v":3195},{"t":41.488,"w":19.167,"v":4000},{"t":41.529,"w":19.167,"v":4536},{"t":41.57,"w":19.167,"v":4670},{"t":41.611,"w":19.167,"v":3955},{"t":41.653,"w":19.167,"v":3061},{"t":41.694,"w":19.167,"v":2256},{"t":41.735,"w":19.167,"v":1452},{"t":41.776,"w":19.167,"v":915},{"t":41.818,"w":19.167,"v":558},
    {"t":41.281,"w":19.152,"v":672},{"t":41.323,"w":19.152,"v":1026},{"t":41.364,"w":19.152,"v":1459},{"t":41.405,"w":19.152,"v":2127},{"t":41.446,"w":19.152,"v":2836},{"t":41.488,"w":19.152,"v":3544},{"t":41.529,"w":19.152,"v":4016},{"t":41.57,"w":19.152,"v":4134},{"t":41.611,"w":19.152,"v":3504},{"t":41.653,"w":19.152,"v":2718},{"t":41.694,"w":19.152,"v":2009},{"t":41.735,"w":19.152,"v":1301},{"t":41.776,"w":19.152,"v":829},
    {"t":41.281,"w":19.136,"v":602},{"t":41.323,"w":19.136,"v":904},{"t":41.364,"w":19.136,"v":1273},{"t":41.405,"w":19.136,"v":1843},{"t":41.446,"w":19.136,"v":2446},{"t":41.488,"w":19.136,"v":3050},{"t":41.529,"w":19.136,"v":3452},{"t":41.57,"w":19.136,"v":3553},{"t":41.611,"w":19.136,"v":3016},{"t":41.653,"w":19.136,"v":2346},{"t":41.694,"w":19.136,"v":1742},{"t":41.735,"w":19.136,"v":1139},{"t":41.776,"w":19.136,"v":736},
    {"t":41.323,"w":19.121,"v":810},{"t":41.364,"w":19.121,"v":1130},{"t":41.405,"w":19.121,"v":1624},{"t":41.446,"w":19.121,"v":2147},{"t":41.488,"w":19.121,"v":2670},{"t":41.529,"w":19.121,"v":3018},{"t":41.57,"w":19.121,"v":3106},{"t":41.611,"w":19.121,"v":2641},{"t":41.653,"w":19.121,"v":2060},{"t":41.694,"w":19.121,"v":1537},{"t":41.735,"w":19.121,"v":1014},{"t":41.776,"w":19.121,"v":665},
    {"t":41.323,"w":19.106,"v":726},{"t":41.364,"w":19.106,"v":1001},{"t":41.405,"w":19.106,"v":1427},{"t":41.446,"w":19.106,"v":1877},{"t":41.488,"w":19.106,"v":2328},{"t":41.529,"w":19.106,"v":2628},{"t":41.57,"w":19.106,"v":2703},{"t":41.611,"w":19.106,"v":2303},{"t":41.653,"w":19.106,"v":1802},{"t":41.694,"w":19.106,"v":1351},{"t":41.735,"w":19.106,"v":901},{"t":41.776,"w":19.106,"v":601},
    {"t":41.323,"w":19.091,"v":651},{"t":41.364,"w":19.091,"v":887},{"t":41.405,"w":19.091,"v":1251},{"t":41.446,"w":19.091,"v":1638},{"t":41.488,"w":19.091,"v":2024},{"t":41.529,"w":19.091,"v":2281},{"t":41.57,"w":19.091,"v":2346},{"t":41.611,"w":19.091,"v":2002},{"t":41.653,"w":19.091,"v":1573},{"t":41.694,"w":19.091,"v":1187},{"t":41.735,"w":19.091,"v":801},
    {"t":41.323,"w":19.075,"v":585},{"t":41.364,"w":19.075,"v":786},{"t":41.405,"w":19.075,"v":1098},{"t":41.446,"w":19.075,"v":1428},{"t":41.488,"w":19.075,"v":1758},{"t":41.529,"w":19.075,"v":1978},{"t":41.57,"w":19.075,"v":2033},{"t":41.611,"w":19.075,"v":1739},{"t":41.653,"w":19.075,"v":1373},{"t":41.694,"w":19.075,"v":1043},{"t":41.735,"w":19.075,"v":713},
    {"t":41.364,"w":19.06,"v":701},{"t":41.405,"w":19.06,"v":967},{"t":41.446,"w":19.06,"v":1248},{"t":41.488,"w":19.06,"v":1530},{"t":41.529,"w":19.06,"v":1718},{"t":41.57,"w":19.06,"v":1765},{"t":41.611,"w":19.06,"v":1514},{"t":41.653,"w":19.06,"v":1201},{"t":41.694,"w":19.06,"v":920},{"t":41.735,"w":19.06,"v":638},
    {"t":41.364,"w":19.045,"v":615},{"t":41.405,"w":19.045,"v":835},{"t":41.446,"w":19.045,"v":1069},{"t":41.488,"w":19.045,"v":1302},{"t":41.529,"w":19.045,"v":1457},{"t":41.57,"w":19.045,"v":1496},{"t":41.611,"w":19.045,"v":1289},{"t":41.653,"w":19.045,"v":1030},{"t":41.694,"w":19.045,"v":796},{"t":41.735,"w":19.045,"v":563},
    {"t":41.405,"w":19.029,"v":726},{"t":41.446,"w":19.029,"v":919},{"t":41.488,"w":19.029,"v":1112},{"t":41.529,"w":19.029,"v":1241},{"t":41.57,"w":19.029,"v":1273},{"t":41.611,"w":19.029,"v":1101},{"t":41.653,"w":19.029,"v":887},{"t":41.694,"w":19.029,"v":693},
    {"t":41.405,"w":19.014,"v":616},{"t":41.446,"w":19.014,"v":769},{"t":41.488,"w":19.014,"v":922},{"t":41.529,"w":19.014,"v":1024},{"t":41.57,"w":19.014,"v":1049},{"t":41.611,"w":19.014,"v":913},{"t":41.653,"w":19.014,"v":744},{"t":41.694,"w":19.014,"v":591}
  ]},
  "mark": {"type": "square", "size": 27, "opacity": 1, "strokeWidth": 0, "filled": true},
  "encoding": {
    "x": {
      "field": "t", "type": "quantitative",
      "scale": {"domain": [39.54, 43.545], "nice": false, "zero": false},
      "axis": {"title": "2Theta", "values": [40, 40.5, 41, 41.5, 42, 42.5, 43, 43.5], "format": "~g",
               "ticks": false, "domain": false, "grid": false, "labelFontSize": 16, "labelPadding": 11,
               "labelColor": "black", "titleFontSize": 17, "titleFontWeight": "normal", "titleColor": "black", "titlePadding": 15}
    },
    "y": {
      "field": "w", "type": "quantitative",
      "scale": {"domain": [19, 20.2], "nice": false, "zero": false},
      "axis": {"title": "Omega", "values": [19, 19.2, 19.4, 19.6, 19.8, 20, 20.2], "format": "~g",
               "ticks": false, "domain": false, "grid": false, "labelFontSize": 16, "labelPadding": 8,
               "labelColor": "black", "titleFontSize": 17, "titleFontWeight": "normal", "titleColor": "black", "titlePadding": 20}
    },
    "color": {
      "field": "v", "type": "quantitative",
      "scale": {"domain": [200, 5162, 16515, 27870, 39220, 44900],
                "range": ["#000090", "#0000ff", "#00ffff", "#ffff00", "#ff0000", "#800000"],
                "interpolate": "rgb"},
      "legend": {"title": "x 10⁴", "orient": "none", "legendX": 507, "legendY": -18, "direction": "vertical",
                 "gradientLength": 392, "gradientThickness": 19, "gradientStrokeColor": "black", "gradientStrokeWidth": 1,
                 "values": [5000, 10000, 15000, 20000, 25000, 30000, 35000, 40000],
                 "labelExpr": "format(datum.value / 10000, '~g')", "labelFontSize": 16, "labelOffset": 6,
                 "labelColor": "black", "labelOverlap": false,
                 "titleFontSize": 14, "titleFontWeight": "normal", "titleColor": "black", "titlePadding": 4, "padding": 0}
    }
  }
}
